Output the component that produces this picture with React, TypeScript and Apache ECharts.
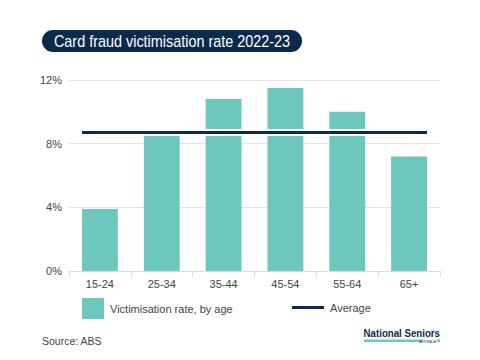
import React, { useEffect, useRef } from "react";
import * as echarts from "echarts";

const categories = ["15-24", "25-34", "35-44", "45-54", "55-64", "65+"];
const rates = [3.9, 8.5, 10.8, 11.5, 10.0, 7.2];
const average = 8.7;
const yTicks = [0, 4, 8, 12];

const TEAL = "#6cc7bc";
const NAVY = "#0c2a4d";
const FONT = "'Liberation Sans', Arial, sans-serif";

export default function App() {
  const ref = useRef<HTMLDivElement>(null);
  useEffect(() => {
    if (!ref.current) return;
    const chart = echarts.init(ref.current, undefined, { renderer: "svg" });
    const barFrac = 0.58;
    const edge = (1 - barFrac) / 2;
    const avgData = [
      [edge, average],
      [categories.length - edge, average],
    ];
    chart.setOption({
      animation: false,
      backgroundColor: "#ffffff",
      textStyle: { fontFamily: FONT },
      grid: { left: 69, right: 40, top: 80, bottom: 89, containLabel: false },
      legend: [
        {
          data: [{ name: "Victimisation rate, by age", icon: "rect" }],
          left: 82,
          top: 298,
          itemWidth: 22,
          itemHeight: 21,
          padding: 0,
          textStyle: { color: "#444", fontSize: 11, fontFamily: FONT, padding: [0, 0, 0, 1] },
        },
        {
          data: [{ name: "Average", icon: "rect" }],
          left: 292,
          top: 302,
          itemWidth: 32,
          itemHeight: 3,
          padding: 0,
          textStyle: { color: "#444", fontSize: 11, fontFamily: FONT, padding: [0, 0, 0, 1] },
        },
      ],
      xAxis: [
        {
          type: "category",
          data: categories,
          axisLine: { lineStyle: { color: "#dcdcdc" } },
          axisTick: { show: true, length: 6, lineStyle: { color: "#dcdcdc" } },
          axisLabel: { color: "#444", fontSize: 11, margin: 7, fontFamily: FONT },
        },
        { type: "value", min: 0, max: categories.length, show: false },
      ],
      yAxis: {
        type: "value",
        min: yTicks[0],
        max: yTicks[yTicks.length - 1],
        interval: 4,
        axisLine: { show: false },
        axisTick: { show: false },
        axisLabel: { color: "#444", fontSize: 11, margin: 7, formatter: "{value}%", fontFamily: FONT },
        splitLine: { lineStyle: { color: "#e3e3e3" } },
      },
      series: [
        {
          name: "Victimisation rate, by age",
          type: "bar",
          data: rates,
          barWidth: barFrac * 100 + "%",
          itemStyle: { color: TEAL },
          z: 2,
        },
        {
          type: "line",
          xAxisIndex: 1,
          data: avgData,
          symbol: "none",
          lineStyle: { color: "#ffffff", width: 7 },
          z: 3,
          silent: true,
        },
        {
          name: "Average",
          type: "line",
          xAxisIndex: 1,
          data: avgData,
          symbol: "none",
          itemStyle: { color: NAVY },
          lineStyle: { color: NAVY, width: 3 },
          z: 4,
        },
      ],
      graphic: [
        {
          type: "rect",
          shape: { x: 42, y: 30, width: 260, height: 22, r: 11 },
          style: { fill: NAVY },
        },
        {
          type: "text",
          x: 172,
          y: 41,
          scaleX: 0.9,
          style: {
            text: "Card fraud victimisation rate 2022-23",
            fill: "#ffffff",
            font: `16px ${FONT}`,
            textAlign: "center",
            textVerticalAlign: "middle",
          },
        },
        {
          type: "text",
          x: 42,
          y: 341,
          style: {
            text: "Source: ABS",
            fill: "#444",
            font: `10.5px ${FONT}`,
            textVerticalAlign: "middle",
          },
        },
        {
          type: "text",
          x: 440,
          y: 333.5,
          scaleX: 0.88,
          style: {
            text: "National Seniors",
            fill: NAVY,
            font: `bold 11px ${FONT}`,
            textAlign: "right",
            textVerticalAlign: "middle",
          },
        },
        {
          type: "rect",
          shape: { x: 364, y: 339.5, width: 59, height: 2.5 },
          style: { fill: TEAL },
        },
        {
          type: "text",
          x: 436,
          y: 341.5,
          style: {
            text: "AUSTRALIA",
            fill: NAVY,
            font: `3px ${FONT}`,
            textAlign: "right",
            textVerticalAlign: "middle",
          },
        },
        {
          type: "rect",
          shape: { x: 437, y: 339.5, width: 3, height: 2.5 },
          style: { fill: TEAL },
        },
      ],
    });
    return () => chart.dispose();
  }, []);
  return <div ref={ref} style={{ width: 480, height: 360, position: "absolute", left: 0, top: 0 }} />;
}
